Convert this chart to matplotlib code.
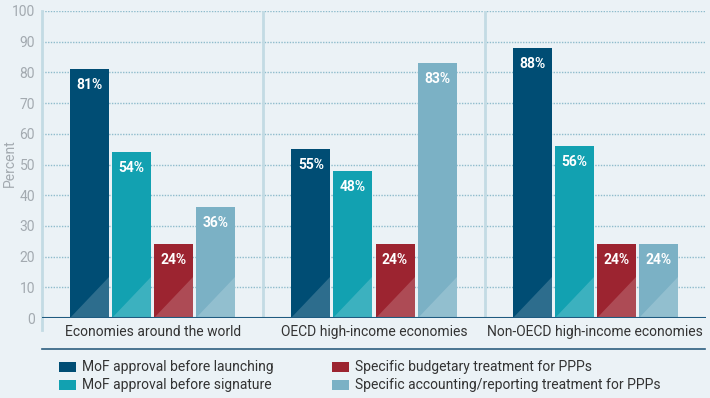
import numpy as np
import matplotlib.pyplot as plt
from matplotlib.patches import Polygon, Rectangle
from matplotlib.lines import Line2D

plt.rcParams['font.family'] = ['Roboto', 'DejaVu Sans']

groups = ['Economies around the world', 'OECD high-income economies', 'Non-OECD high-income economies']
series = ['MoF approval before launching', 'MoF approval before signature',
          'Specific budgetary treatment for PPPs', 'Specific accounting/reporting treatment for PPPs']
launching = [81, 55, 88]
signature = [54, 48, 56]
budgetary = [24, 24, 24]
accounting = [36, 83, 24]
values = [launching, signature, budgetary, accounting]
bar_colors = ['#004d74', '#12a1b1', '#9c2430', '#7bb1c5']
yticks = list(range(0, 101, 10))

bg = '#ebf2f6'
fig = plt.figure(figsize=(7.1, 3.98), dpi=100, facecolor=bg)
ax = fig.add_axes([42 / 710, 80 / 398, 664 / 710, 307 / 398], facecolor=bg)

width = 0.176
step = 0.19
x = np.arange(len(groups))
for i, (vals, col) in enumerate(zip(values, bar_colors)):
    pos = x + (i - 1.5) * step
    ax.bar(pos, vals, width, color=col, zorder=3)
    for p, v in zip(pos, vals):
        # lighter triangle at the foot of each bar
        tri = Polygon([(p - width / 2, 0), (p + width / 2, 0), (p + width / 2, 13.5)],
                      closed=True, facecolor='white', alpha=0.18, edgecolor='none', zorder=4)
        ax.add_patch(tri)
        ax.text(p, v - 5.2, f'{v}%', color='white', ha='center', va='center',
                fontsize=10, fontweight='bold', zorder=5)

ax.set_xlim(-0.5, 2.5)
ax.set_ylim(0, 100)
for y in yticks[1:]:
    ax.axhline(y, color='#8fbccc', lw=1, ls=(0, (1, 1)), zorder=1)
for sx in [0.5, 1.5]:
    ax.axvline(sx, color='#c3dbe4', lw=2, zorder=2)
ax.axhline(0, color='#1f5b80', lw=1.5, zorder=6)

for s in ['top', 'right', 'bottom']:
    ax.spines[s].set_visible(False)
ax.spines['left'].set_color('#c3dbe4')
ax.spines['left'].set_linewidth(2)
ax.spines['left'].set_bounds(-4, 100)
ax.set_yticks(yticks)
ax.set_yticklabels([str(t) for t in yticks], color='#a3aab0', fontsize=10)
ax.tick_params(axis='y', length=0, pad=5)
ax.set_xticks(x)
ax.set_xticklabels(groups, color='#333333', fontsize=10)
ax.tick_params(axis='x', length=0, pad=5)
fig.text(10 / 710, 1 - 163 / 398, 'Percent', color='#a3aab0', fontsize=10,
         rotation=90, ha='center', va='center')

# separator above legend
fig.add_artist(Line2D([42 / 710, 705 / 710], [1 - 349 / 398] * 2, color='#2e5f80', lw=1.2))

# legend
leg_pos = [(59, 367), (59, 385), (332, 367), (332, 385)]
for (lx, ly), lab, col in zip(leg_pos, series, bar_colors):
    fig.add_artist(Rectangle((lx / 710, 1 - (ly + 5) / 398), 17 / 710, 10 / 398,
                             facecolor=col, edgecolor='none', transform=fig.transFigure))
    fig.text((lx + 23) / 710, 1 - ly / 398, lab, color='#333333', fontsize=10, va='center')

fig.savefig('out.png', dpi=100, facecolor=bg)
